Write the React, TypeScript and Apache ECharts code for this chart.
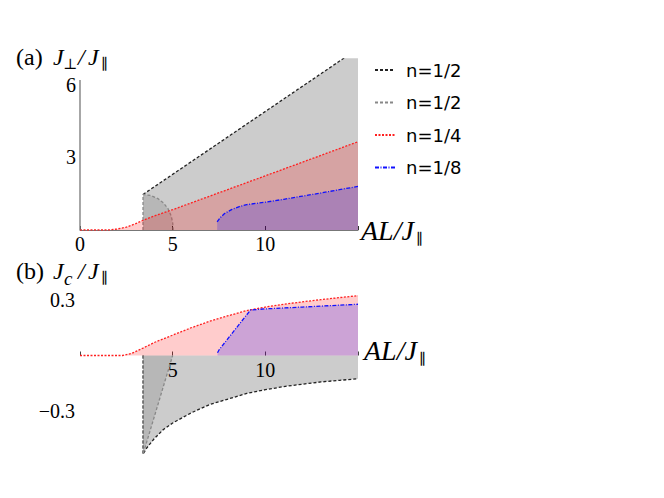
import React, { useEffect, useRef } from 'react';
import * as echarts from 'echarts';

// ---- data ----
const legendNames = ['n=1/2', 'n=1/2 ', 'n=1/4', 'n=1/8'];

// panel (a): J_perp / J_par versus AL/J_par
const aHalfOuter: number[][] = [[3.4, 1.47], [15, 7.5]];
const aHalfInner: number[][] = [[3.4, 0], [3.4, 1.47], [3.8, 1.43], [4.2, 1.3], [4.5, 1.12], [4.75, 0.88], [4.92, 0.58], [5.0, 0.3], [5.03, 0]];
const aQuarter: number[][] = [[0, 0], [1.5, 0], [2, 0.04], [2.5, 0.12], [3, 0.26], [3.4, 0.4], [4, 0.58], [4.5, 0.71], [5, 0.84], [6, 1.12], [10, 2.24], [15, 3.65]];
const aEighth: number[][] = [[7.4, 0.34], [7.55, 0.5], [7.8, 0.68], [8.2, 0.85], [8.6, 0.97], [9.0, 1.05], [9.5, 1.1], [10, 1.15], [11, 1.27], [12, 1.4], [13, 1.53], [14, 1.67], [15, 1.8]];
const aYAxisLine: number[][] = [[0, 0], [0, 6.2]];

// panel (b): J_c / J_par versus AL/J_par
const bHalfOuter: number[][] = [[3.4, 0], [3.4, -0.534], [3.6, -0.5], [4, -0.45], [4.5, -0.4], [5, -0.365], [6, -0.31], [7, -0.265], [8, -0.235], [9, -0.205], [10, -0.185], [11, -0.168], [12, -0.155], [13, -0.143], [14, -0.134], [15, -0.126]];
const bHalfInner: number[][] = [[3.4, 0], [3.4, -0.534], [5.0, 0]];
const bQuarter: number[][] = [[0, 0], [2.3, 0], [2.8, 0.012], [3.4, 0.04], [4, 0.07], [5, 0.11], [6, 0.15], [7, 0.185], [8, 0.215], [9, 0.243], [10, 0.262], [11, 0.277], [12, 0.29], [13, 0.302], [14, 0.313], [15, 0.323]];
const bEighth: number[][] = [[7.42, 0.015], [7.5, 0.03], [9.2, 0.246], [10, 0.252], [12, 0.262], [15, 0.277]];

const xTopLabels = [0, 5, 10];
const xBottomLabels = [5, 10];
const yTopLabels = [3, 6];
const yBottomLabels = [0.3, -0.3];

const SERIF = '"Liberation Serif", "DejaVu Serif", serif';

const GRAY_FILL = 'rgba(0,0,0,0.2)';
const GRAY_INNER_FILL = 'rgba(0,0,0,0.1)';
const RED_FILL = 'rgba(255,0,0,0.2)';
const BLUE_FILL = 'rgba(0,0,255,0.2)';

function near(v: number, list: number[]) {
  return list.some((t) => Math.abs(t - v) < 1e-6);
}

export default function App() {
  const ref = useRef<HTMLDivElement>(null);
  useEffect(() => {
    if (!ref.current) return;
    const chart = echarts.init(ref.current, undefined, { renderer: 'svg' });

    const lineSeries = (name: string, data: number[][], idx: number, color: string, type: any, fill: string | null, z: number) => ({
      type: 'line',
      name,
      data,
      xAxisIndex: idx,
      yAxisIndex: idx,
      symbol: 'none',
      showSymbol: false,
      clip: true,
      z,
      lineStyle: { color, width: 1.3, type },
      itemStyle: { color },
      areaStyle: fill ? { color: fill, opacity: 1, origin: 0 } : undefined,
      silent: true,
    });

    const tickLabel = { fontFamily: SERIF, fontSize: 20, color: '#000' };

    const txt = (text: string, x: number, y: number, size: number, italic = false) => ({
      type: 'text',
      silent: true,
      style: {
        text,
        x,
        y,
        fill: '#000',
        font: `${italic ? 'italic ' : ''}${size}px ${SERIF}`,
        verticalAlign: 'middle',
        textVerticalAlign: 'middle',
      },
    });

    const hiddenAxis = (gridIndex: number, min: number, max: number) => ({
      type: 'value', gridIndex, min, max,
      axisLine: { show: false }, axisTick: { show: false }, axisLabel: { show: false }, splitLine: { show: false },
    });

    chart.setOption({
      animation: false,
      backgroundColor: '#fff',
      grid: [
        { left: 80, width: 278, top: 59, height: 171 },
        { left: 80, width: 278, top: 244.5, height: 222 },
        // label strip whose bottom edge sits on J_c = 0 of panel (b)
        { left: 80, width: 278, top: 300, height: 55.5 },
      ],
      xAxis: [
        {
          type: 'value', gridIndex: 0, min: 0, max: 15, interval: 5,
          axisLine: { show: true, lineStyle: { color: '#777', width: 1 } },
          axisTick: { show: true, inside: true, length: 4, lineStyle: { color: '#333' } },
          axisLabel: { ...tickLabel, margin: 4, formatter: (v: number) => (near(v, xTopLabels) ? String(v) : '') },
          splitLine: { show: false },
        },
        hiddenAxis(1, 0, 15),
        {
          type: 'value', gridIndex: 2, min: 0, max: 15, interval: 5, position: 'bottom',
          axisLine: { show: false },
          axisTick: { show: true, inside: true, length: 4, lineStyle: { color: '#444' } },
          axisLabel: { ...tickLabel, margin: 4, formatter: (v: number) => (near(v, xBottomLabels) ? String(v) : '') },
          splitLine: { show: false },
        },
      ],
      yAxis: [
        {
          type: 'value', gridIndex: 0, min: 0, max: 7.07, interval: 3,
          axisLine: { show: false },
          axisTick: { show: false },
          axisLabel: { ...tickLabel, margin: 4, formatter: (v: number) => (near(v, yTopLabels) ? String(v) : '') },
          splitLine: { show: false },
        },
        {
          type: 'value', gridIndex: 1, min: -0.6, max: 0.6, interval: 0.3,
          axisLine: { show: false },
          axisTick: { show: false },
          axisLabel: {
            ...tickLabel, margin: 5,
            formatter: (v: number) => (near(v, yBottomLabels) ? (v < 0 ? '\u2212' + Math.abs(v).toFixed(1) : v.toFixed(1)) : ''),
          },
          splitLine: { show: false },
        },
        hiddenAxis(2, 0, 1),
      ],
      legend: {
        data: legendNames,
        orient: 'vertical',
        left: 369,
        top: 56,
        itemWidth: 20,
        itemHeight: 14,
        itemGap: 14.5,
        selectedMode: false,
        itemStyle: { opacity: 0 },
        formatter: (n: string) => n.trim(),
        textStyle: { fontFamily: '"DejaVu Sans", sans-serif', fontSize: 18, color: '#000', padding: [0, 0, 0, 6] },
      },
      series: [
        lineSeries(legendNames[0], aHalfOuter, 0, '#222', [3, 2], GRAY_FILL, 2),
        lineSeries(legendNames[1], aHalfInner, 0, '#888', [3, 2], GRAY_INNER_FILL, 3),
        lineSeries(legendNames[2], aQuarter, 0, '#ff2020', [2, 1.5], RED_FILL, 4),
        lineSeries(legendNames[3], aEighth, 0, '#1010ff', [4, 1.5, 1, 1.5], BLUE_FILL, 5),
        lineSeries('y-axis', aYAxisLine, 0, '#777', 'solid', null, 6),
        lineSeries(legendNames[0], bHalfOuter, 1, '#222', [3, 2], GRAY_FILL, 2),
        lineSeries(legendNames[1], bHalfInner, 1, '#888', [3, 2], GRAY_INNER_FILL, 3),
        lineSeries(legendNames[2], bQuarter, 1, '#ff2020', [2, 1.5], RED_FILL, 4),
        lineSeries(legendNames[3], bEighth, 1, '#1010ff', [4, 1.5, 1, 1.5], BLUE_FILL, 5),
      ],
      graphic: [
        txt('(a)', 16, 57, 24),
        txt('J', 53, 57, 24, true),
        txt('\u22A5', 63, 64, 15),
        txt('/', 78, 57, 24, true),
        txt('J', 88, 57, 24, true),
        txt('\u2225', 101, 64, 15),
        txt('(b)', 16, 271, 24),
        txt('J', 53, 271, 24, true),
        txt('c', 64, 278, 19, true),
        txt('/', 78, 271, 24, true),
        txt('J', 88, 271, 24, true),
        txt('\u2225', 101, 278, 15),
        txt('AL/J', 361, 230, 28, true),
        txt('\u2225', 416, 239, 15),
        txt('AL/J', 364, 350, 28, true),
        txt('\u2225', 419, 359, 15),
      ],
    });
    return () => chart.dispose();
  }, []);
  return <div ref={ref} style={{ position: 'fixed', left: 0, top: 0, width: 664, height: 498 }} />;
}
